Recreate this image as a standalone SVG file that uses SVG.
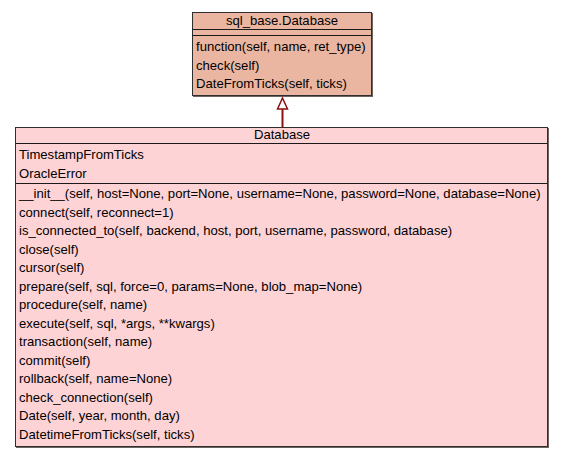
<svg xmlns="http://www.w3.org/2000/svg" width="563" height="459" viewBox="0 0 563 459">
  <defs>
    <style>
      .shadow { fill: #6e6460; }
      .cls { stroke: #2f2f2f; stroke-width: 1; }
      .base { fill: #ebb6a1; }
      .derived { fill: #fdd3d5; }
      .sep { stroke: #1a1a1a; stroke-width: 1; }
      text { font-family: "Liberation Sans", Arial, sans-serif; font-size: 13.1px; fill: #000; }
      .title { text-anchor: middle; }
      .edge { stroke: #8b1010; stroke-width: 2; fill: none; }
    </style>
  </defs>
  <rect width="563" height="459" fill="#ffffff"/>

  <!-- base class -->
  <g id="sql_base.Database">
    <rect class="shadow" x="193" y="13" width="180" height="84"/>
    <rect class="cls base" x="192.5" y="12.5" width="179" height="83"/>
    <line class="sep" x1="192.5" y1="29.5" x2="371.5" y2="29.5"/>
    <line class="sep" x1="192.5" y1="35.5" x2="371.5" y2="35.5"/>
    <text class="title" x="282" y="25">sql_base.Database</text>
    <text x="196" y="51">function(self, name, ret_type)</text>
    <text x="196" y="69.5">check(self)</text>
    <text x="196" y="88">DateFromTicks(self, ticks)</text>
  </g>

  <!-- derived class -->
  <g id="Database">
    <rect class="shadow" x="16" y="128" width="533" height="320"/>
    <rect class="cls derived" x="15.5" y="127.5" width="532" height="319"/>
    <line class="sep" x1="15.5" y1="143.5" x2="547.5" y2="143.5"/>
    <line class="sep" x1="15.5" y1="183.5" x2="547.5" y2="183.5"/>
    <text class="title" x="282" y="139">Database</text>
    <text x="19" y="159">TimestampFromTicks</text>
    <text x="19" y="177.5">OracleError</text>
    <text x="19" y="198">__init__(self, host=None, port=None, username=None, password=None, database=None)</text>
    <text x="19" y="216.5">connect(self, reconnect=1)</text>
    <text x="19" y="235">is_connected_to(self, backend, host, port, username, password, database)</text>
    <text x="19" y="253.5">close(self)</text>
    <text x="19" y="272">cursor(self)</text>
    <text x="19" y="290.5">prepare(self, sql, force=0, params=None, blob_map=None)</text>
    <text x="19" y="309">procedure(self, name)</text>
    <text x="19" y="327.5">execute(self, sql, *args, **kwargs)</text>
    <text x="19" y="346">transaction(self, name)</text>
    <text x="19" y="364.5">commit(self)</text>
    <text x="19" y="383">rollback(self, name=None)</text>
    <text x="19" y="401.5">check_connection(self)</text>
    <text x="19" y="420">Date(self, year, month, day)</text>
    <text x="19" y="438.5">DatetimeFromTicks(self, ticks)</text>
  </g>

  <!-- inheritance -->
  <g id="connectors">
    <line class="edge" x1="282.5" y1="109" x2="282.5" y2="127"/>
    <polygon points="282.5,98 277.5,109 287.5,109" fill="#ffffff" stroke="#8b1010" stroke-width="1.5"/>
  </g>
</svg>
